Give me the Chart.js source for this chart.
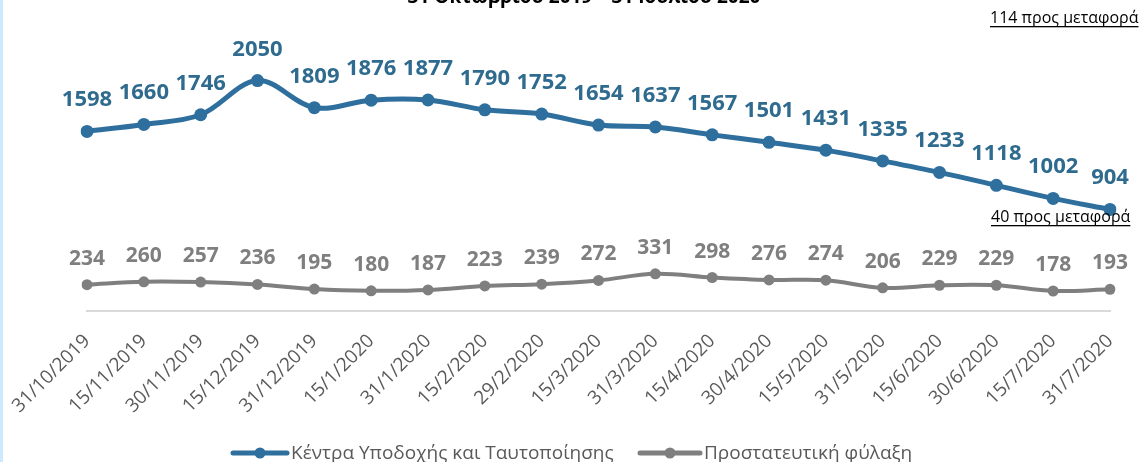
<!DOCTYPE html>
<html>
<head>
<meta charset="utf-8">
<script src="https://cdn.jsdelivr.net/npm/chart.js@4"></script>
<style>
  html, body { margin: 0; padding: 0; background: #fff; overflow: hidden; }
  #wrap { position: relative; width: 1141px; height: 462px; }
  #strip { position: absolute; left: 0; top: 0; width: 3px; height: 462px; background: #cde9fd; }
</style>
</head>
<body>
<div id="wrap">
  <canvas id="chart" width="1141" height="462"></canvas>
  <div id="strip"></div>
</div>
<script>
// Data
const dates = ['31/10/2019', '15/11/2019', '30/11/2019', '15/12/2019', '31/12/2019', '15/1/2020', '31/1/2020', '15/2/2020', '29/2/2020', '15/3/2020', '31/3/2020', '15/4/2020', '30/4/2020', '15/5/2020', '31/5/2020', '15/6/2020', '30/6/2020', '15/7/2020', '31/7/2020'];
const receptionCentres = [1598, 1660, 1746, 2050, 1809, 1876, 1877, 1790, 1752, 1654, 1637, 1567, 1501, 1431, 1335, 1233, 1118, 1002, 904];
const protectiveCustody = [234, 260, 257, 236, 195, 180, 187, 223, 239, 272, 331, 298, 276, 274, 206, 229, 229, 178, 193];
const seriesNames = ['Κέντρα Υποδοχής και Ταυτοποίησης', 'Προστατευτική φύλαξη'];
const titleText = '31 Οκτωβρίου 2019 – 31 Ιουλίου 2020';
const notes = ['114 προς μεταφορά', '40 προς μεταφορά'];

const BLUE = '#2e6f9e';
const BLUE_TXT = '#2f6b8f';
const GREY = '#7f7f7f';
const FONT = '"Open Sans", "Noto Sans", sans-serif';

// value labels above the points
const valueLabels = {
  id: 'valueLabels',
  afterDatasetsDraw(chart) {
    const ctx = chart.ctx;
    ctx.save();
    ctx.textAlign = 'center';
    ctx.textBaseline = 'alphabetic';
    chart.data.datasets.forEach((ds, i) => {
      const meta = chart.getDatasetMeta(i);
      ctx.fillStyle = i === 0 ? BLUE_TXT : GREY;
      ctx.font = 'bold ' + (i === 0 ? 22 : 21) + 'px ' + FONT;
      const gap = i === 0 ? 25 : 20;
      meta.data.forEach((pt, j) => {
        ctx.fillText(ds.data[j], pt.x, pt.y - gap);
      });
    });
    ctx.restore();
  }
};

// title, notes, custom legend
const extras = {
  id: 'extras',
  afterDraw(chart) {
    const ctx = chart.ctx;
    ctx.save();
    // cut-off title
    ctx.fillStyle = '#000';
    ctx.font = 'bold 19px ' + FONT;
    ctx.textAlign = 'center';
    ctx.textBaseline = 'alphabetic';
    ctx.fillText(titleText, 584, 3);

    // underlined notes
    ctx.font = '16px ' + FONT;
    ctx.textAlign = 'left';
    const notePos = [[990, 23], [991, 222]];
    notes.forEach((t, k) => {
      const [x, y] = notePos[k];
      ctx.fillStyle = '#000';
      ctx.fillText(t, x, y);
      const w = ctx.measureText(t).width;
      ctx.fillRect(x, y + 3, w, 1.3);
    });

    // legend
    ctx.font = '19px ' + FONT;
    ctx.textBaseline = 'middle';
    const items = [
      { x0: 233, x1: 287, color: BLUE, lw: 5, r: 5.5, label: chart.data.datasets[0].label },
      { x0: 640, x1: 700, color: GREY, lw: 5, r: 5.5, label: chart.data.datasets[1].label }
    ];
    const ly = 453;
    items.forEach(it => {
      ctx.strokeStyle = it.color;
      ctx.lineWidth = it.lw;
      ctx.lineCap = 'round';
      ctx.beginPath();
      ctx.moveTo(it.x0, ly);
      ctx.lineTo(it.x1, ly);
      ctx.stroke();
      ctx.fillStyle = it.color;
      ctx.beginPath();
      ctx.arc((it.x0 + it.x1) / 2, ly, it.r, 0, Math.PI * 2);
      ctx.fill();
      ctx.fillStyle = '#595959';
      ctx.fillText(it.label, it.x1 + 4, ly + 1);
    });
    ctx.restore();
  }
};

new Chart(document.getElementById('chart'), {
  type: 'line',
  data: {
    labels: dates,
    datasets: [
      { label: seriesNames[0], data: receptionCentres, borderColor: BLUE, backgroundColor: BLUE, borderWidth: 5, pointRadius: 6.5, pointHoverRadius: 6.5, pointBorderWidth: 0, tension: 0.35 },
      { label: seriesNames[1], data: protectiveCustody, borderColor: GREY, backgroundColor: GREY, borderWidth: 4, pointRadius: 5.5, pointHoverRadius: 5.5, pointBorderWidth: 0, tension: 0.35 }
    ]
  },
  options: {
    responsive: false,
    animation: false,
    layout: { padding: { left: 87, right: 31, top: 30, bottom: 0 } },
    plugins: { legend: { display: false }, tooltip: { enabled: false }, title: { display: false } },
    scales: {
      x: {
        offset: false,
        grid: { display: true, drawOnChartArea: false, drawTicks: false, color: 'rgba(0,0,0,0)' },
        border: { display: true, color: '#d9d9d9', width: 2 },
        ticks: { color: '#595959', font: { family: FONT, size: 19 }, minRotation: 45, maxRotation: 45, padding: 19, autoSkip: false },
        afterFit(scale) { scale.height = 151; scale.paddingLeft = 0; scale.paddingRight = 0; }
      },
      y: { display: false, min: 0, max: 2500 }
    }
  },
  plugins: [valueLabels, extras]
});
</script>
</body>
</html>
